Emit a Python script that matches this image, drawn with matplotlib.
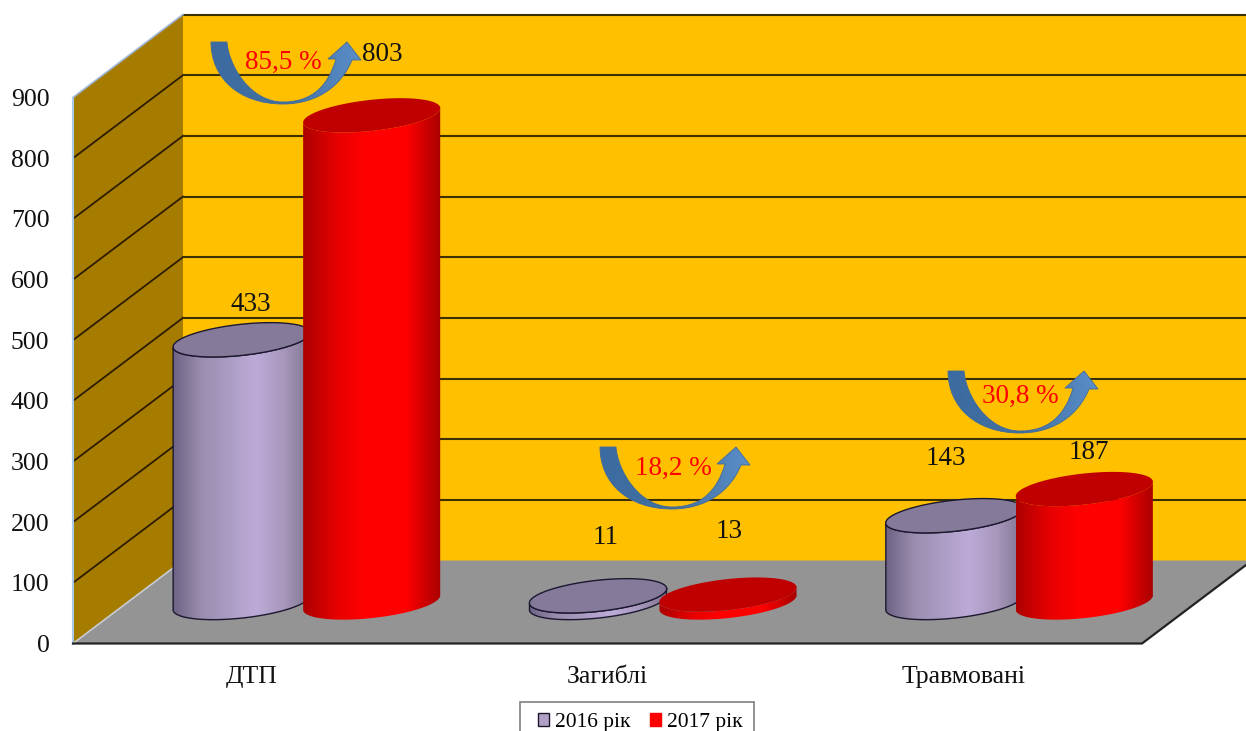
import matplotlib
matplotlib.use('Agg')
import matplotlib.pyplot as plt
import numpy as np
from matplotlib.patches import Patch, PathPatch, Polygon, Rectangle
from matplotlib.path import Path
from matplotlib.colors import LinearSegmentedColormap

categories = ['ДТП', 'Загиблі', 'Травмовані']
values_2016 = [433, 11, 143]
values_2017 = [803, 13, 187]
series_names = ['2016 рік', '2017 рік']
changes = ['85,5 %', '18,2 %', '30,8 %']
y_ticks = [0, 100, 200, 300, 400, 500, 600, 700, 800, 900]

plt.rcParams['font.family'] = ['Liberation Serif', 'DejaVu Serif']

W, H = 1246, 731
fig = plt.figure(figsize=(W / 100, H / 100), dpi=100)
# axes = front plane of the 3D box, px 73..1142 and 97.5..643.5
ax = fig.add_axes([73 / W, (H - 643.5) / H, 1069 / W, 546 / H])
ax.set_facecolor('none')
for s in ax.spines.values():
    s.set_visible(False)

PX_X = 3 / 1069  # data units per pixel
PX_Y = 900 / 546
DEPTH_X = 110 * PX_X
DEPTH_Y = 83 * PX_Y


def to_data(px, py):
    return -0.5 + (np.asarray(px) - 73) * PX_X, (643.5 - np.asarray(py)) * PX_Y


def flat(pts, **kw):
    ax.add_patch(Polygon(pts, closed=True, clip_on=False, **kw))


# box walls
x0, x1 = -0.5, 2.5
ymax = y_ticks[-1]
flat([(x0, 0), (x0 + DEPTH_X, DEPTH_Y), (x0 + DEPTH_X, ymax + DEPTH_Y), (x0, ymax)],
     fc='#a67c00', ec='none', zorder=1)
flat([(x0 + DEPTH_X, DEPTH_Y), (x1 + DEPTH_X, DEPTH_Y), (x1 + DEPTH_X, ymax + DEPTH_Y), (x0 + DEPTH_X, ymax + DEPTH_Y)],
     fc='#ffc000', ec='none', zorder=1)
flat([(x0, 0), (x1, 0), (x1 + DEPTH_X, DEPTH_Y), (x0 + DEPTH_X, DEPTH_Y)],
     fc='#949494', ec='none', zorder=1)

for v in y_ticks[1:]:
    if v < ymax:
        ax.plot([x0, x0 + DEPTH_X], [v, v + DEPTH_Y], color='#2e1c00', lw=1.3, clip_on=False, zorder=2)
    ax.plot([x0 + DEPTH_X, x1 + DEPTH_X], [v + DEPTH_Y, v + DEPTH_Y], color='#3d3000', lw=1.5, clip_on=False, zorder=2)
# box edges
ax.plot([x0, x0 + DEPTH_X], [ymax, ymax + DEPTH_Y], color='#9fb4d8', lw=1.2, clip_on=False, zorder=2)
ax.plot([x0, x0], [0, ymax], color='#a9cbe8', lw=1.5, clip_on=False, zorder=2)
ax.plot([x0, x0 + DEPTH_X], [0, DEPTH_Y], color='#c8ccd0', lw=1.2, clip_on=False, zorder=2)
ax.plot([x0, x1, x1 + DEPTH_X], [0, 0, DEPTH_Y], color='#222222', lw=1.6, clip_on=False, zorder=2)

# cylinders
cm_2016 = LinearSegmentedColormap.from_list('c16', [(0, '#6d6384'), (0.2, '#9a8dae'), (0.6, '#bcabd8'), (0.8, '#a898bd'), (1, '#7f748f')])
cm_2017 = LinearSegmentedColormap.from_list('c17', [(0, '#ad0000'), (0.25, '#e80000'), (0.45, '#ff0000'), (0.75, '#ff0000'), (1, '#a80000')])

A, B, TILT = 69.0, 15.5, np.deg2rad(6.3)
BAR_OFFSET = 65 * PX_X
BASE_X = 55.5 * PX_X
BASE_Y = 41 * PX_Y
T0 = np.arctan(-(B / A) * np.tan(TILT))


def ellipse(cx, cy, t):
    # tilted ellipse, axes given in pixels, result in data units
    ex = A * np.cos(t) * np.cos(TILT) + B * np.sin(t) * np.sin(TILT)
    ey = A * np.cos(t) * np.sin(TILT) - B * np.sin(t) * np.cos(TILT)
    return cx + ex * PX_X, cy + ey * PX_Y


def cylinder(xc, val, cmap, top_color, edge, z):
    yb = BASE_Y
    yt = BASE_Y + val
    t_low = np.linspace(T0, T0 + np.pi, 80)
    xb, ybs = ellipse(xc, yb, t_low)
    xt, yts = ellipse(xc, yt, t_low[::-1])
    side = np.column_stack([np.r_[xb, xt], np.r_[ybs, yts]])
    clip = Polygon(side, closed=True, transform=ax.transData, fc='none', ec=edge, lw=1.0, clip_on=False, zorder=z + 0.2)
    ax.add_patch(clip)
    grad = np.linspace(0, 1, 256).reshape(1, -1)
    xl, xr = side[:, 0].min(), side[:, 0].max()
    im = ax.imshow(grad, cmap=cmap, extent=[xl, xr, yb - 40, yt + 40], aspect='auto', zorder=z + 0.1)
    im.set_clip_path(clip)
    im.set_clip_box(fig.bbox)
    tt = np.linspace(0, 2 * np.pi, 160)
    ex, ey = ellipse(xc, yt, tt)
    ax.fill(ex, ey, fc=top_color, ec=edge, lw=1.0, clip_on=False, zorder=z + 0.3)


# hand placed value labels, offset from the top of the bar in pixels
offsets_2016 = [(9, 35), (8, 58), (-8, 57)]
offsets_2017 = [(11, 61), (1, 63.5), (5, 36.5)]

for i, cat in enumerate(categories):
    xc = i + BASE_X
    cylinder(xc - BAR_OFFSET, values_2016[i], cm_2016, '#857a9a', '#1c1830', 10 + i * 2)
    cylinder(xc + BAR_OFFSET, values_2017[i], cm_2017, '#c00000', 'none', 11 + i * 2)
    ax.annotate(str(values_2016[i]), (xc - BAR_OFFSET, BASE_Y + values_2016[i]), xytext=offsets_2016[i],
                textcoords='offset pixels', ha='center', va='center', fontsize=19.5, color='#111111', zorder=30, annotation_clip=False)
    ax.annotate(str(values_2017[i]), (xc + BAR_OFFSET, BASE_Y + values_2017[i]), xytext=offsets_2017[i],
                textcoords='offset pixels', ha='center', va='center', fontsize=19.5, color='#111111', zorder=30, annotation_clip=False)

# curved arrows with the percent change
arrow_cm = LinearSegmentedColormap.from_list('arr', ['#3c6ba3', '#41709f', '#5b8fcb'])
arrow_pos = [(211, 42), (600, 447), (948, 371)]
change_pos = [(283, 62), (673, 468), (1020, 396)]
tpl = [(0, 0), (16, 0), (18, 25), (40, 60), (72, 60), (100, 60), (117, 45), (125, 17), (117, 17), (136, 0),
       (150, 18), (141, 18), (130, 45), (105, 62), (72, 62), (28, 62), (0, 36), (0, 0), (0, 0)]
codes = [Path.MOVETO, Path.LINETO, Path.CURVE4, Path.CURVE4, Path.CURVE4, Path.CURVE4, Path.CURVE4, Path.CURVE4,
         Path.LINETO, Path.LINETO, Path.LINETO, Path.LINETO, Path.CURVE4, Path.CURVE4, Path.CURVE4, Path.CURVE4,
         Path.CURVE4, Path.CURVE4, Path.CLOSEPOLY]
tpl = np.array(tpl, dtype=float)
for (ax_px, ay_px), (tx, ty), txt in zip(arrow_pos, change_pos, changes):
    dx, dy = to_data(ax_px + tpl[:, 0], ay_px + tpl[:, 1])
    patch = PathPatch(Path(np.column_stack([dx, dy]), codes), transform=ax.transData, fc='none', ec='#3f6a9c', lw=0.6, clip_on=False, zorder=20.2)
    ax.add_patch(patch)
    im = ax.imshow(np.linspace(0, 1, 128).reshape(1, -1), cmap=arrow_cm, extent=[dx.min(), dx.max(), dy.min(), dy.max()], aspect='auto', zorder=20.1)
    im.set_clip_path(patch)
    im.set_clip_box(fig.bbox)
    lx, ly = to_data(tx, ty)
    ax.text(lx, ly, txt, color='#ff0000', fontsize=19.5, ha='center', va='center', zorder=31)

ax.set_xlim(x0, x1)
ax.set_ylim(0, ymax)
ax.set_xticks(range(len(categories)))
ax.set_xticklabels(categories, fontsize=18.5, color='#111111')
ax.set_yticks(y_ticks)
ax.set_yticklabels([str(v) for v in y_ticks], fontsize=18.5, color='#111111')
ax.tick_params(axis='x', length=0, pad=16.5)
ax.tick_params(axis='y', length=0, pad=17)

# legend frame runs off the bottom of the picture, so it is drawn by hand
fig.add_artist(Rectangle((520 / W, -0.01), 234 / W, 1 - 702 / H + 0.01, transform=fig.transFigure, fc='white', ec='#7f7f7f', lw=1.2))
handles = [Patch(fc='#b3a2c7', ec='#1c1830', lw=1.0), Patch(fc='#ff0000', ec='#ff0000', lw=1.0)]
fig.legend(handles, series_names, loc='upper center', bbox_to_anchor=(640 / W, 1 - 701 / H), ncol=2,
           fontsize=15.5, frameon=False,
           handlelength=0.55, handleheight=0.55, handletextpad=0.25, columnspacing=0.9, borderpad=0.55, borderaxespad=0)

fig.savefig('out.png', dpi=100)
